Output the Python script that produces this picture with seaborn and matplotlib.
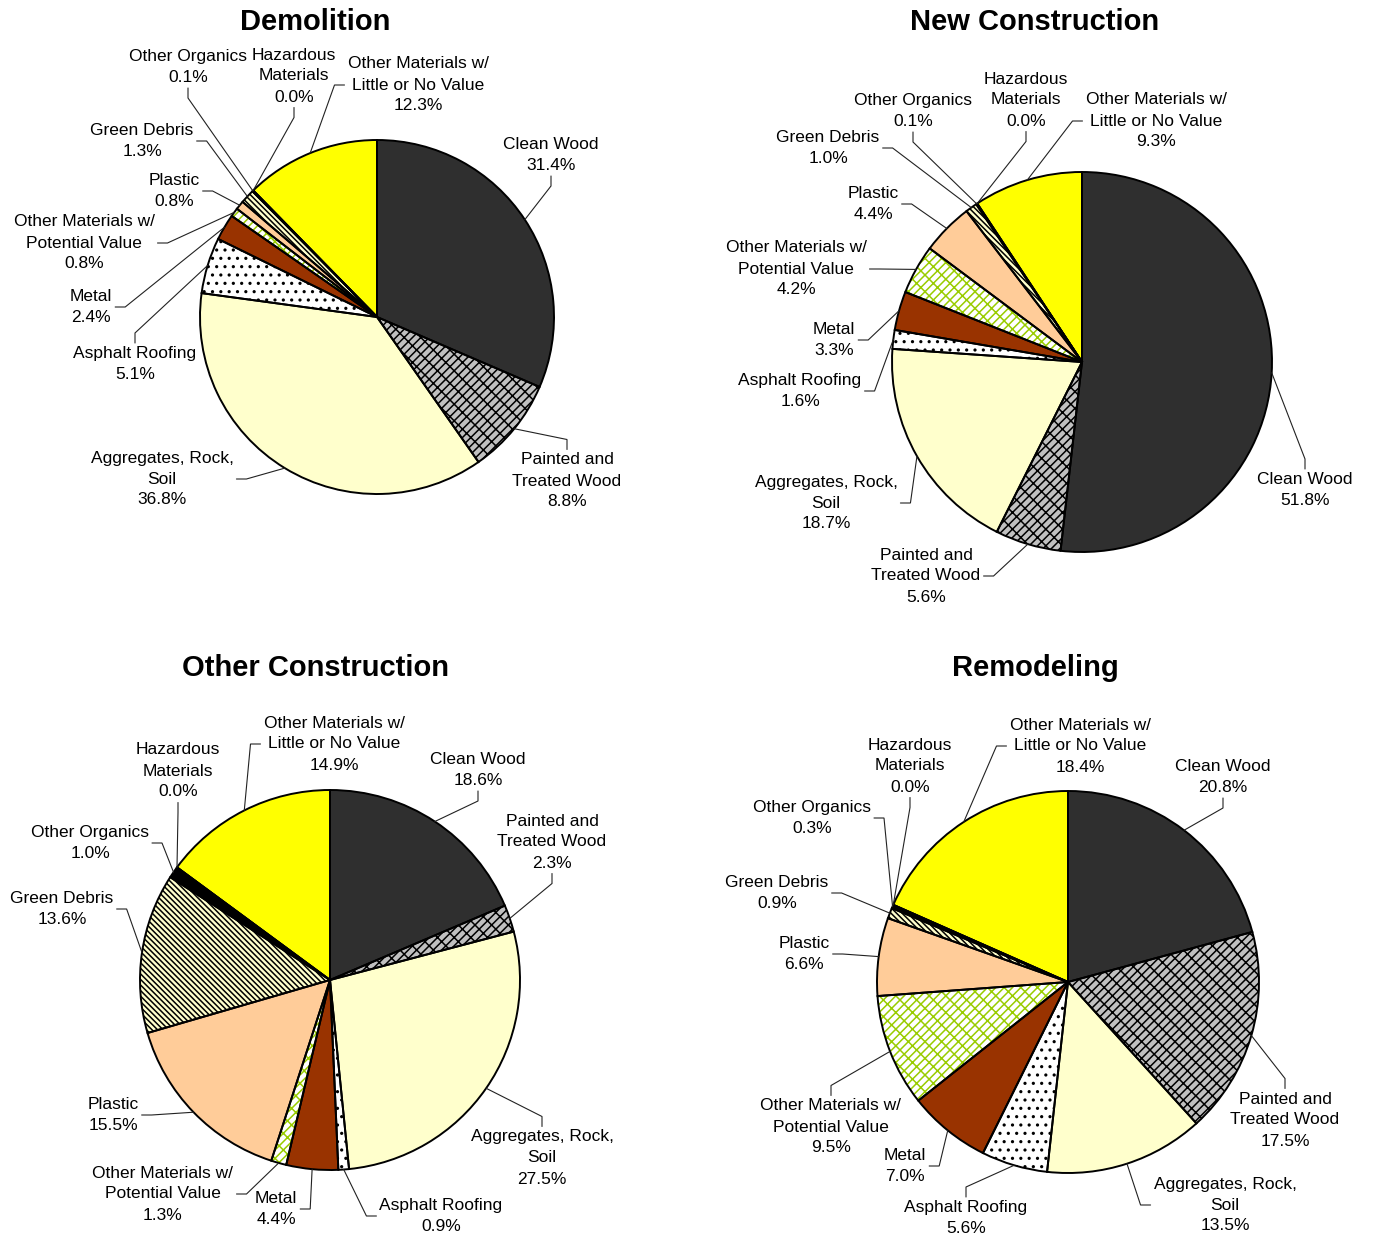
import numpy as np
import matplotlib
matplotlib.use("Agg")
import matplotlib.pyplot as plt
import seaborn as sns

# material categories (clockwise from 12 o'clock)
categories = ["Clean Wood", "Painted and\nTreated Wood", "Aggregates, Rock,\nSoil",
              "Asphalt Roofing", "Metal", "Other Materials w/\nPotential Value",
              "Plastic", "Green Debris", "Other Organics", "Hazardous\nMaterials",
              "Other Materials w/\nLittle or No Value"]

demolition = [31.4, 8.8, 36.8, 5.1, 2.4, 0.8, 0.8, 1.3, 0.1, 0.0, 12.3]
new_construction = [51.8, 5.6, 18.7, 1.6, 3.3, 4.2, 4.4, 1.0, 0.1, 0.0, 9.3]
other_construction = [18.6, 2.3, 27.5, 0.9, 4.4, 1.3, 15.5, 13.6, 1.0, 0.0, 14.9]
remodeling = [20.8, 17.5, 13.5, 5.6, 7.0, 9.5, 6.6, 0.9, 0.3, 0.0, 18.4]

titles = ["Demolition", "New Construction", "Other Construction", "Remodeling"]

# styles
fills = ["#2f2f2f", "#c0c0c0", "#ffffcc", "#ffffff", "#993300", "#ffffff",
         "#ffcc99", "#ffffcc", "#000000", "#cc0000", "#ffff00"]
hatches = [None, "////\\\\", None, "..", None, "////\\\\", None,
           "\\" * 6, None, None, None]
hatch_cols = ["black", "black", "black", "black", "black", "#99cc00",
              "black", "black", "black", "black", "black"]

sns.set_style("white")
plt.rcParams["font.family"] = ["Liberation Sans", "DejaVu Sans"]
plt.rcParams["text.color"] = "black"
plt.rcParams["hatch.linewidth"] = 1.1

W, H = 1374, 1238
fig = plt.figure(figsize=(W / 100, H / 100), dpi=100)
ax = fig.add_axes([0, 0, 1, 1])
ax.set_xlim(0, W)
ax.set_ylim(0, H)
ax.set_aspect("equal")
ax.axis("off")


def P(x, y):
    return (x, H - y)


# layout in pixels: pie centre, radius, title position, label positions, leader side
layout = [
    ((377, 317), 177, (315, 22),
     [(551, 155), (567, 481), (162, 479), (135, 364), (91, 307), (84, 243),
      (174, 191), (142, 141), (188, 67), (294, 76), (418, 85)],
     "btrtrrrrbbl"),
    ((1082, 362), 190, (1035, 22),
     [(1305, 490), (926, 576), (826, 503), (800, 391), (834, 340), (796, 269),
      (873, 204), (828, 148), (913, 111), (1026, 100), (1156, 121)],
     "trrrrrrrbbl"),
    ((330, 980), 190, (315, 668),
     [(478, 770), (552, 842), (542, 1158), (441, 1216), (276, 1209), (163, 1194),
      (113, 1115), (62, 909), (90, 843), (178, 771), (334, 744)],
     "bbtlrrrrrbl"),
    ((1068, 982), 191, (1035, 668),
     [(1223, 777), (1285, 1120), (1225, 1205), (966, 1218), (905, 1166), (831, 1127),
      (804, 954), (777, 893), (812, 818), (910, 766), (1080, 746)],
     "btltrtrrrbl"),
]

datasets = [demolition, new_construction, other_construction, remodeling]

pending = []
for title, values, (center, radius, tpos, lpos, sides) in zip(titles, datasets, layout):
    c = P(*center)
    # fill + hatch layer
    wedges, _ = ax.pie(values, colors=fills, startangle=90, counterclock=False,
                       center=c, radius=radius, frame=True,
                       wedgeprops=dict(linewidth=0))
    for w, h, hc in zip(wedges, hatches, hatch_cols):
        if h:
            w.set_hatch(h)
            w.set_edgecolor(hc)
    # outline layer
    ax.pie(values, colors=["none"] * len(values), startangle=90, counterclock=False,
           center=c, radius=radius, frame=True,
           wedgeprops=dict(linewidth=1.4, edgecolor="black", fill=False))
    ax.text(*P(*tpos), title, ha="center", va="center", fontsize=21, fontweight="bold")
    for w, name, v, pos, side in zip(wedges, categories, values, lpos, sides):
        mid = np.deg2rad((w.theta1 + w.theta2) / 2)
        edge = (c[0] + radius * np.cos(mid), c[1] + radius * np.sin(mid))
        t = ax.text(*P(*pos), f"{name}\n{v:.1f}%", ha="center", va="center",
                    fontsize=12.5, linespacing=1.5)
        pending.append((t, side, edge))

ax.set_xlim(0, W)
ax.set_ylim(0, H)

# elbow leader lines from label edge to wedge edge
fig.canvas.draw()
inv = ax.transData.inverted()
for t, side, edge in pending:
    bb = t.get_window_extent().transformed(inv)
    xm, ym = (bb.x0 + bb.x1) / 2, (bb.y0 + bb.y1) / 2
    pad, arm = 3, 10
    if side == "r":
        s, e = (bb.x1 + pad, ym), (bb.x1 + pad + arm, ym)
    elif side == "l":
        s, e = (bb.x0 - pad, ym), (bb.x0 - pad - arm, ym)
    elif side == "t":
        s, e = (xm, bb.y1 + pad), (xm, bb.y1 + pad + arm)
    else:
        s, e = (xm, bb.y0 - pad), (xm, bb.y0 - pad - arm)
    ax.plot([s[0], e[0], edge[0]], [s[1], e[1], edge[1]], color="#222222",
            lw=0.8, solid_joinstyle="miter")

ax.set_xlim(0, W)
ax.set_ylim(0, H)
fig.savefig("out.png", dpi=100, facecolor="white")
